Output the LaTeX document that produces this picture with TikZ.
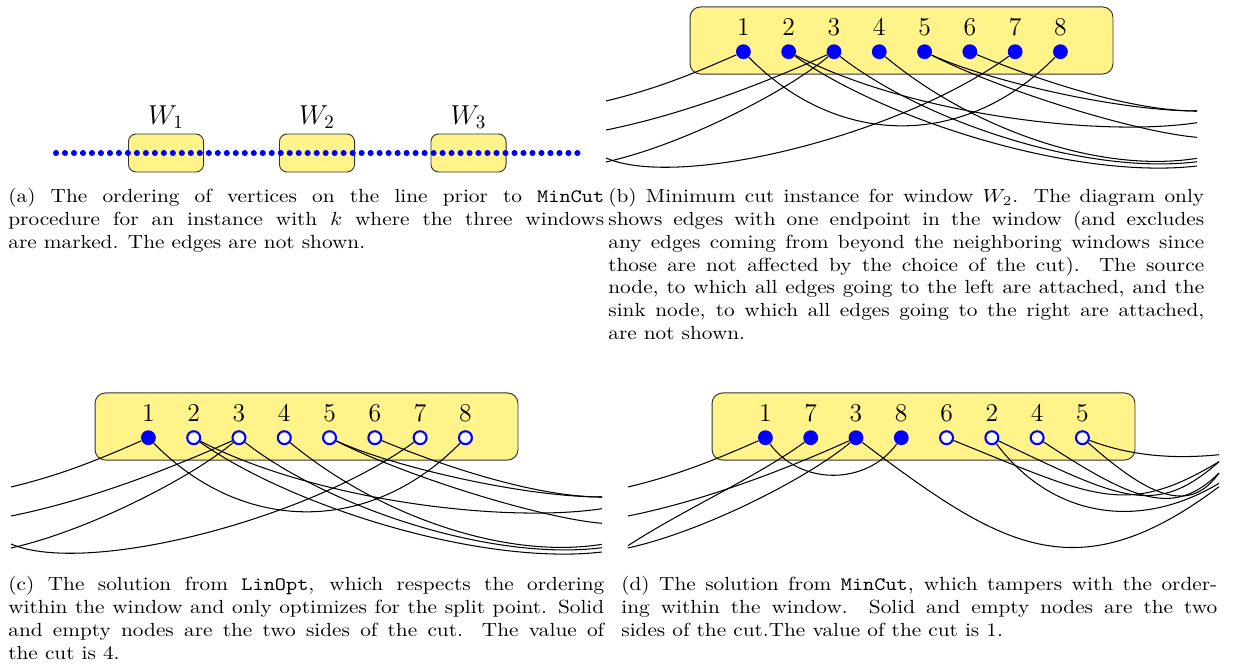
\documentclass[tikz,border=0pt]{standalone}
\usepackage{graphicx}
\definecolor{winyellow}{RGB}{255,243,138}
\pgfdeclarelayer{boxlayer}
\pgfdeclarelayer{edgelayer}
\pgfsetlayers{boxlayer,edgelayer,main}
\tikzset{
 adot/.style={circle, fill=blue, inner sep=0pt, minimum size=3.2pt},
 wbox/.style={draw=black!80, fill=winyellow, rounded corners=4pt, inner sep=0pt, minimum width=39.5pt, minimum height=20pt, line width=0.5pt},
 pbox/.style={draw=black!80, fill=winyellow, rounded corners=5.5pt, inner sep=0pt, minimum width=222.6pt, minimum height=35.3pt, line width=0.5pt},
 vfull/.style={circle, fill=blue, inner sep=0pt, minimum size=7.8pt},
 vempty/.style={circle, draw=blue, fill=white, line width=1.1pt, inner sep=0pt, minimum size=6.8pt},
 cnx/.style={draw=black, line width=0.55pt},
 numlbl/.style={font=\fontsize{13.5}{16}\selectfont, inner sep=0pt},
 wlbl/.style={font=\fontsize{14}{17}\selectfont, inner sep=0pt, anchor=base},
 capn/.style={anchor=north west, inner sep=0pt},
}
\newcommand\captext[1]{\scalebox{1.12}[1]{\parbox[t]{280pt}{\fontsize{10}{12}\selectfont #1}}}
\newcommand\bcedges[1]{%
 \coordinate (#1L1) at (-137.4,49.3);
 \coordinate (#1L2) at (-137.4,78.3);
 \coordinate (#1L3) at (-137.4,110.3);
 \coordinate (#1L4) at (-137.4,106.3);
 \coordinate (#1R5) at (453.6,59.3);
 \coordinate (#1R7) at (453.6,59.3);
 \coordinate (#1R6) at (453.6,85.6);
 \coordinate (#1R1) at (453.6,71);
 \coordinate (#1R2) at (453.6,114.3);
 \coordinate (#1R3) at (453.6,110);
 \coordinate (#1R4) at (453.6,106.6);
 \draw[cnx] (#11) .. controls +(-50,22) and +(50,-12) .. (#1L1);
 \draw[cnx] (#13) .. controls +(-80,36) and +(70,-14) .. (#1L2);
 \draw[cnx] (#13) .. controls +(-45,38) and +(80,-18) .. (#1L3);
 \draw[cnx] (#17) .. controls +(-115,83.3) and +(74,32) .. (#1L4);
 \draw[cnx] (#11) .. controls +(95,97) and +(-95,97) .. (#18);
 \draw[cnx] (#15) .. controls +(60,28) and +(-80,0) .. (#1R5);
 \draw[cnx] (#16) .. controls +(60,25) and +(-70,0) .. (#1R7);
 \draw[cnx] (#15) .. controls +(80,40) and +(-60,-5) .. (#1R6);
 \draw[cnx] (#12) .. controls +(120,62) and +(-100,15) .. (#1R1);
 \draw[cnx] (#12) .. controls +(100,70) and +(-120,14) .. (#1R2);
 \draw[cnx] (#13) .. controls +(90,70) and +(-110,14) .. (#1R3);
 \draw[cnx] (#14) .. controls +(90,75) and +(-100,16) .. (#1R4);
}
\begin{document}
\begin{tikzpicture}[x=0.5263pt, y=-0.5263pt]
\useasboundingbox (0,0) rectangle (1233,668);
% ---------- panel (a)
\node[wbox] (w1) at (166,153) {};
\node[wbox] (w2) at (317,153) {};
\node[wbox] (w3) at (468.5,153) {};
\foreach \i in {0,...,58} \node[adot] (ad\i) at ({56+8.99*\i},153) {};
\node[wlbl] (wl1) at (166,124) {$W_1$};
\node[wlbl] (wl2) at (317,124) {$W_2$};
\node[wlbl] (wl3) at (468.5,124) {$W_3$};
% ---------- panel (b)
\begin{scope}[shift={(743.4,51.7)}]
 \begin{pgfonlayer}{boxlayer}\node[pbox] (bbox) at (158.1,-11.2) {};\end{pgfonlayer}
 \foreach \l/\s [count=\k from 0] in {1/vfull,2/vfull,3/vfull,4/vfull,5/vfull,6/vfull,7/vfull,8/vfull}{
   \node[\s] (b\l) at ({45.29*\k},0) {};
   \node[numlbl] (bt\l) at ({45.29*\k},-24.7) {\l};
 }
 \begin{pgfonlayer}{edgelayer}\bcedges{b}\end{pgfonlayer}
\end{scope}
% ---------- panel (c)
\begin{scope}[shift={(148.4,437.7)}]
 \begin{pgfonlayer}{boxlayer}\node[pbox] (cbox) at (158.1,-11.2) {};\end{pgfonlayer}
 \foreach \l/\s [count=\k from 0] in {1/vfull,2/vempty,3/vempty,4/vempty,5/vempty,6/vempty,7/vempty,8/vempty}{
   \node[\s] (c\l) at ({45.29*\k},0) {};
   \node[numlbl] (ct\l) at ({45.29*\k},-24.7) {\l};
 }
 \begin{pgfonlayer}{edgelayer}\bcedges{c}\end{pgfonlayer}
\end{scope}
% ---------- panel (d)
\begin{scope}[shift={(765.4,437.7)}]
 \begin{pgfonlayer}{boxlayer}\node[pbox] (dbox) at (158.1,-11.2) {};\end{pgfonlayer}
 \foreach \l/\s [count=\k from 0] in {1/vfull,7/vfull,3/vfull,8/vfull,6/vempty,2/vempty,4/vempty,5/vempty}{
   \node[\s] (d\l) at ({45.29*\k},0) {};
   \node[numlbl] (dt\l) at ({45.29*\k},-24.7) {\l};
 }
 \begin{pgfonlayer}{edgelayer}
 \coordinate (dL1) at (-137.4,49.3);
 \coordinate (dL2) at (-137.4,78.3);
 \coordinate (dL3) at (-137.4,110.3);
 \coordinate (dL4) at (-137.4,108);
 \coordinate (dR5a) at (453.6,17);
 \coordinate (dR6) at (453.6,24);
 \coordinate (dR2a) at (453.6,24);
 \coordinate (dR4) at (453.6,35.3);
 \coordinate (dR5b) at (453.6,35.3);
 \coordinate (dR2b) at (453.6,45.6);
 \coordinate (dR3) at (453.6,49);
 \draw[cnx] (d1) .. controls +(-50,22) and +(50,-12) .. (dL1);
 \draw[cnx] (d3) .. controls +(-80,36) and +(70,-14) .. (dL2);
 \draw[cnx] (d3) .. controls +(-45,38) and +(80,-18) .. (dL3);
 \draw[cnx] (d7) .. controls +(-55,40) and +(55,-36) .. (dL4);
 \draw[cnx] (d1) .. controls +(35,48) and +(-35,48) .. (d8);
 \draw[cnx] (d3) .. controls +(144,108) and +(-144,108) .. (dR3);
 \draw[cnx] (d5) .. controls +(45,17) and +(-50,5) .. (dR5a);
 \draw[cnx] (d6) .. controls +(149,60) and +(-93.6,56) .. (dR6);
 \draw[cnx] (d2) .. controls +(130,62) and +(-63.6,56) .. (dR2a);
 \draw[cnx] (d2) .. controls +(60,80) and +(-80,48) .. (dR2b);
 \draw[cnx] (d4) .. controls +(100,66) and +(-43.6,43) .. (dR4);
 \draw[cnx] (d5) .. controls +(70,62) and +(-28.6,40) .. (dR5b);
 \end{pgfonlayer}
\end{scope}
% ---------- captions
\node[capn] (capa) at (8,188) {\captext{(a) The ordering of vertices on the line prior to \texttt{MinCut}\linebreak procedure for an instance with $k$ where the three windows\linebreak are marked. The edges are not shown.}};
\node[capn] (capb) at (608,188) {\captext{(b) Minimum cut instance for window $W_2$. The diagram only\linebreak shows edges with one endpoint in the window (and excludes\linebreak any edges coming from beyond the neighboring windows since\linebreak those are not affected by the choice of the cut). The source\linebreak node, to which all edges going to the left are attached, and the\linebreak sink node, to which all edges going to the right are attached,\linebreak are not shown.}};
\node[capn] (capc) at (8,576) {\captext{(c) The solution from \texttt{LinOpt}, which respects the ordering\linebreak within the window and only optimizes for the split point. Solid\linebreak and empty nodes are the two sides of the cut. The value of\linebreak the cut is 4.}};
\node[capn] (capd) at (621,576) {\captext{(d) The solution from \texttt{MinCut}, which tampers with the order-\linebreak ing within the window. Solid and empty nodes are the two\linebreak sides of the cut.The value of the cut is 1.}};
\end{tikzpicture}
\end{document}
